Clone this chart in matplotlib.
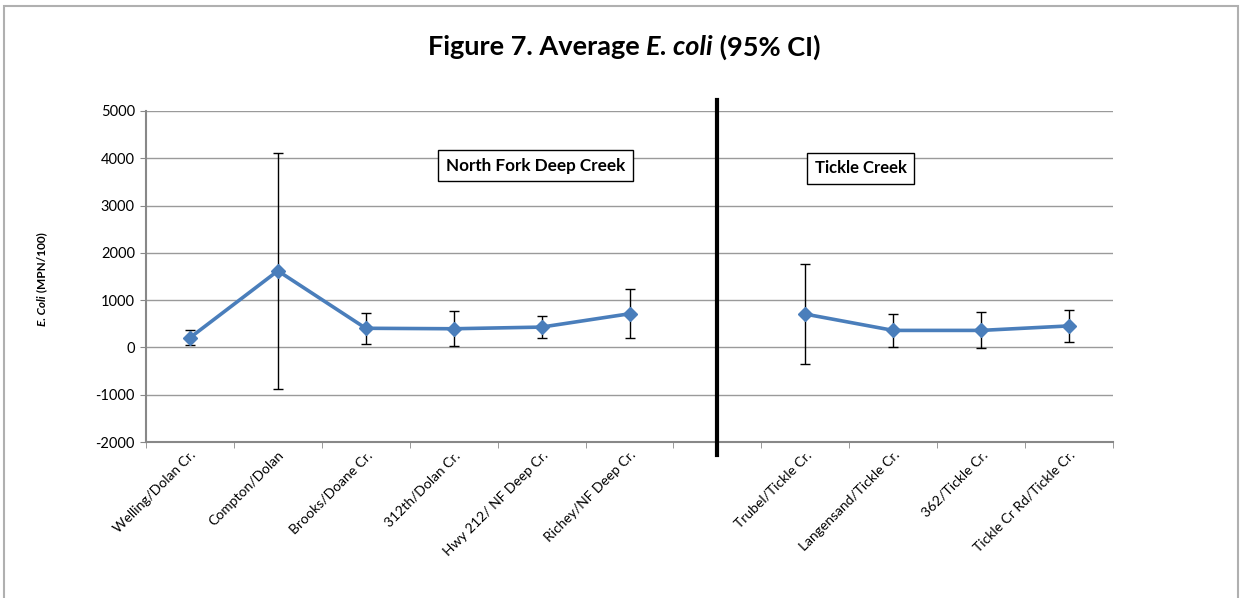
import numpy as np
import matplotlib
matplotlib.use("Agg")
import matplotlib.pyplot as plt
from matplotlib.patches import Rectangle

# Sites (slot 6 is the empty gap between the two creeks)
sites = ["Welling/Dolan Cr.", "Compton/Dolan", "Brooks/Doane Cr.", "312th/Dolan Cr.",
         "Hwy 212/ NF Deep Cr.", "Richey/NF Deep Cr.", "",
         "Trubel/Tickle Cr.", "Langensand/Tickle Cr.", "362/Tickle Cr.", "Tickle Cr Rd/Tickle Cr."]
mean_ecoli = [205, 1620, 405, 395, 430, 712, np.nan, 705, 360, 360, 455]
ci_95 = [158, 2490, 330, 372, 230, 514, np.nan, 1060, 350, 380, 335]

plt.rcParams["font.family"] = ["Lato", "DejaVu Sans"]
plt.rcParams["axes.unicode_minus"] = False

fig = plt.figure(figsize=(12.42, 5.98), dpi=100)
W, H = 1242, 598
ax = fig.add_axes([146 / W, 1 - 442 / H, (1113 - 146) / W, (442 - 111) / H])

x = np.arange(len(sites))
ax.errorbar(x, mean_ecoli, yerr=ci_95, fmt="none", ecolor="black", elinewidth=1,
            capsize=3.5, capthick=1, zorder=3)
ax.plot(x, mean_ecoli, color="#4A7EBB", lw=2.6, marker="D", markersize=7.5,
        markeredgecolor="#4A7EBB", zorder=4)

ax.set_xlim(-0.5, len(sites) - 0.5)
ax.set_ylim(-2000, 5000)
ax.set_yticks(np.arange(-2000, 5001, 1000))
ax.yaxis.grid(True, color="#9a9a9a", lw=1)
ax.set_axisbelow(True)

ax.set_xticks(x)
ax.set_xticklabels(sites, rotation=45, ha="right", rotation_mode="anchor", fontsize=10)
ax.set_xticks(np.arange(-0.5, len(sites)), minor=True)
ax.tick_params(axis="x", which="major", length=0, pad=5)
ax.tick_params(axis="x", which="minor", length=4, color="#888888")
ax.tick_params(axis="y", length=4, color="#888888", labelsize=10.5, pad=4)

for s in ["top", "right"]:
    ax.spines[s].set_visible(False)
for s in ["left", "bottom"]:
    ax.spines[s].set_color("#888888")
    ax.spines[s].set_linewidth(1.5)

# divider between the creeks
ax.plot([6, 6], [-2280, 5230], color="black", lw=3, clip_on=False, zorder=5)

box = dict(boxstyle="square,pad=0.45", facecolor="white", edgecolor="black", lw=1)
ax.text(3.93, 3843, "North Fork Deep Creek", ha="center", va="center", fontsize=12.3,
        fontweight="bold", bbox=box, zorder=6)
ax.text(7.63, 3790, "Tickle Creek", ha="center", va="center", fontsize=12,
        fontweight="bold", bbox=box, zorder=6)


def mixed_text(parts, x0, y0, size, rotation=0):
    # draw text pieces one after another, centred on (x0, y0) in pixels
    r = fig.canvas.get_renderer()
    texts = []
    for s, style in parts:
        t = fig.text(0, 0, s, fontsize=size, fontweight="bold", fontstyle=style,
                     rotation=rotation, va="center", ha="left",
                     transform=None)
        texts.append(t)
    widths = [t.get_window_extent(r).width if rotation == 0 else t.get_window_extent(r).height
              for t in texts]
    total = sum(widths)
    pos = -total / 2
    for t, w in zip(texts, widths):
        if rotation == 0:
            t.set_position((x0 + pos, y0))
        else:
            t.set_position((x0, y0 + pos))
            t.set_va("bottom")
            t.set_ha("center")
        pos += w


mixed_text([("Figure 7. Average ", "normal"), ("E. coli", "italic"), (" (95% CI)", "normal")],
           624, H - 47, 19.5)
mixed_text([("E. Coli", "italic"), (" (MPN/100)", "normal")], 42, H - 279, 8.5, rotation=90)

fig.patches.append(Rectangle((4 / W, -0.05), (1238 - 4) / W, 1.05 - 6 / H,
                             transform=fig.transFigure, fill=False,
                             edgecolor="#b0b0b0", lw=1.5))

fig.savefig("out.png", dpi=100)
